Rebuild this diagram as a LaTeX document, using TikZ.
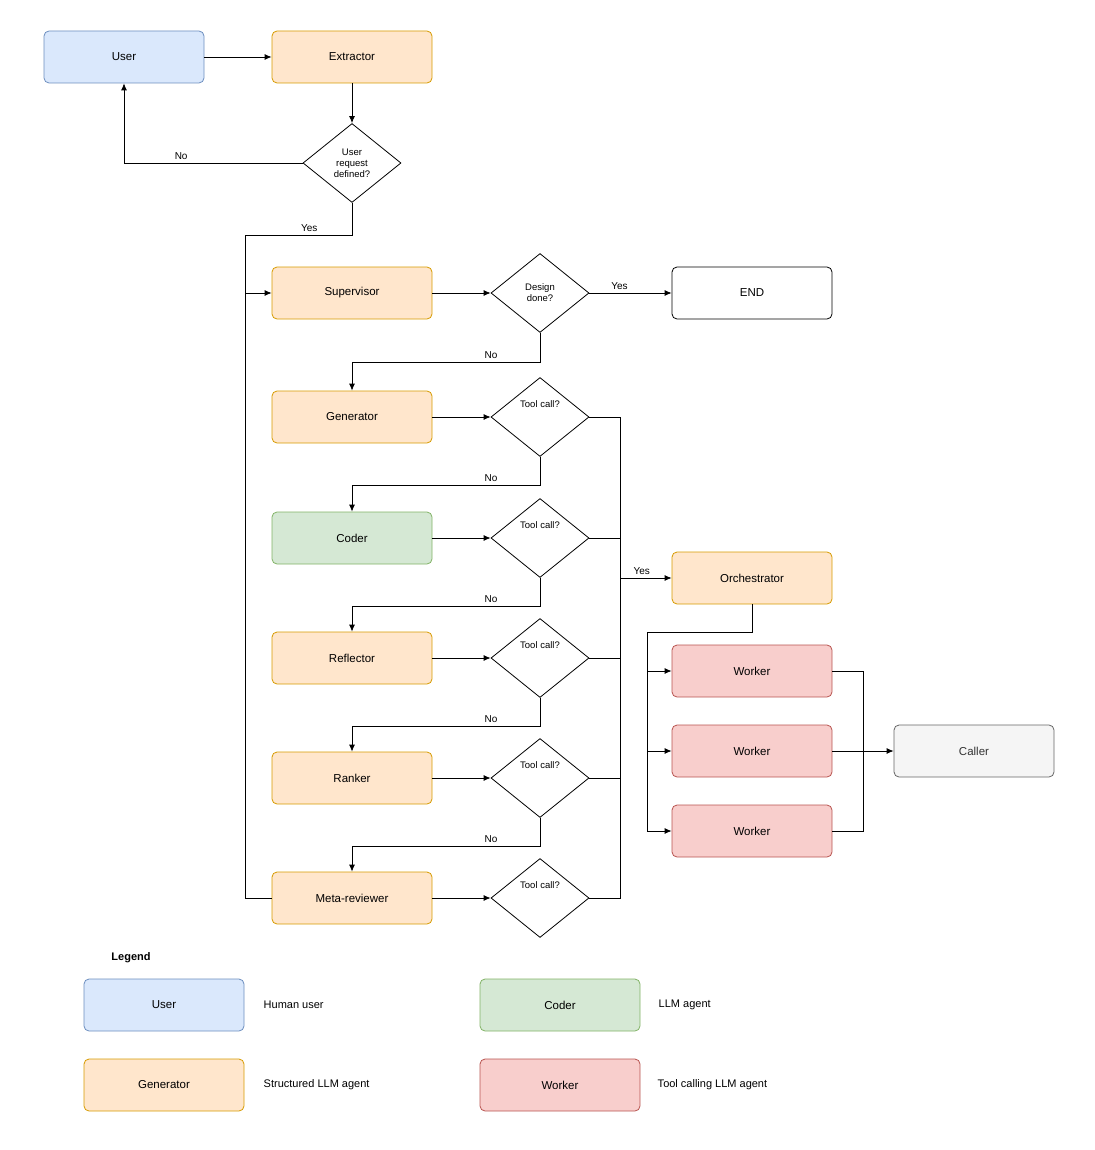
\documentclass[tikz,border=0pt]{standalone}
\usepackage{fontspec}
\setmainfont{Liberation Sans}
\usetikzlibrary{shapes.geometric,arrows.meta}
\definecolor{userfill}{HTML}{DAE8FC}\definecolor{userdraw}{HTML}{6C8EBF}
\definecolor{agentfill}{HTML}{FFE6CC}\definecolor{agentdraw}{HTML}{D79B00}
\definecolor{coderfill}{HTML}{D5E8D4}\definecolor{coderdraw}{HTML}{82B366}
\definecolor{workerfill}{HTML}{F8CECC}\definecolor{workerdraw}{HTML}{B85450}
\definecolor{callerfill}{HTML}{F5F5F5}\definecolor{callerdraw}{HTML}{666666}
\tikzset{
  box/.style={rectangle,rounded corners=5pt,draw,minimum width=160pt,minimum height=52pt,font=\fontsize{11.5}{13}\selectfont},
  human/.style={box,fill=userfill,draw=userdraw},
  agent/.style={box,fill=agentfill,draw=agentdraw},
  llm/.style={box,fill=coderfill,draw=coderdraw},
  worker/.style={box,fill=workerfill,draw=workerdraw},
  caller/.style={box,fill=callerfill,draw=callerdraw,text=black!80},
  plain/.style={box,draw=black},
  decision/.style={diamond,draw,minimum width=98pt,minimum height=79pt,inner sep=0pt,align=center,font=\fontsize{9.5}{11}\selectfont},
  lbl/.style={font=\fontsize{10}{12}\selectfont},
  flow/.style={-{Latex[length=7pt,width=6pt]}},
}
\begin{document}
\begin{tikzpicture}[x=1pt,y=-1pt,line width=0.8pt]
  \useasboundingbox (0,0) rectangle (1094,1150);
  % top part
  \node [human] (user) at (124,57) {User};
  \node [agent] (extr) at (352,57) {Extractor};
  \node [decision] (q1) at (352,163) {User\\request\\defined?};
  \draw [flow] (user) -- (extr);
  \draw [flow] (extr) -- (q1);
  \draw [flow] (q1.west) -| node [lbl,pos=0.34,above] {No} (user.south);
  \coordinate (looptop) at (245,235);
  \draw (q1.south) |- node [lbl,pos=0.7,above] {Yes} (looptop);
  % supervisor
  \node [agent] (sup) at (352,293) {Supervisor};
  \node [decision] (done) at (540,293) {Design\\done?};
  \node [plain] (end) at (752,293) {END};
  \draw [flow] (sup) -- (done);
  \draw [flow] (done) -- node [lbl,above,xshift=-11pt] {Yes} (end);
  % agent column
  \coordinate (bus) at (620,578);
  \foreach \name/\txt/\kind/\y in {gen/Generator/agent/417,cod/Coder/llm/538,
      ref/Reflector/agent/658,rnk/Ranker/agent/778,meta/Meta-reviewer/agent/898} {
    \node [\kind] (\name) at (352,\y) {\txt};
    \node [decision] (tc\name) at (540,\y) {Tool call?\\[14pt]};
    \draw [flow] (\name) -- (tc\name);
    \draw (tc\name.east) -| (bus);
  }
  \draw [flow] (done.south) -- ++(0,29) -| node [lbl,pos=0.13,above] {No} (gen.north);
  \foreach \a/\b in {gen/cod,cod/ref,ref/rnk,rnk/meta}
    \draw [flow] (tc\a.south) -- ++(0,28) -| node [lbl,pos=0.13,above] {No} (\b.north);
  \draw (meta.west) -| (looptop);
  \draw [flow] (looptop |- sup.west) -- (sup.west);
  % orchestrator and workers
  \node [agent] (orch) at (752,578) {Orchestrator};
  \draw [flow] (bus) -- node [lbl,above,xshift=-4pt] {Yes} (orch);
  \node [caller] (call) at (974,751) {Caller};
  \coordinate (wsplit) at (647,632);
  \coordinate (wmerge) at (863,751);
  \draw (orch.south) |- (wsplit);
  \foreach \i/\y in {1/671,2/751,3/831} {
    \node [worker] (wk\i) at (752,\y) {Worker};
    \draw [flow] (wsplit) |- (wk\i.west);
    \draw (wk\i.east) -| (wmerge);
  }
  \draw [flow] (wmerge) -- (call);
  % legend
  \node [font=\fontsize{11}{13}\selectfont\bfseries] (legend) at (131,958) {Legend};
  \node [human] (lguser) at (164,1005) {User};
  \node [lbl,font=\fontsize{11}{13}\selectfont,anchor=west] (lgusertxt) at (260,1005) {Human user};
  \node [llm] (lgcoder) at (560,1005) {Coder};
  \node [lbl,font=\fontsize{11}{13}\selectfont,anchor=west] (lgcodertxt) at (655,1005) {LLM agent};
  \node [agent] (lggen) at (164,1085) {Generator};
  \node [lbl,font=\fontsize{11}{13}\selectfont,anchor=west] (lggentxt) at (260,1085) {Structured LLM agent};
  \node [worker] (lgworker) at (560,1085) {Worker};
  \node [lbl,font=\fontsize{11}{13}\selectfont,anchor=west] (lgworkertxt) at (654,1085) {Tool calling LLM agent};
\end{tikzpicture}
\end{document}
